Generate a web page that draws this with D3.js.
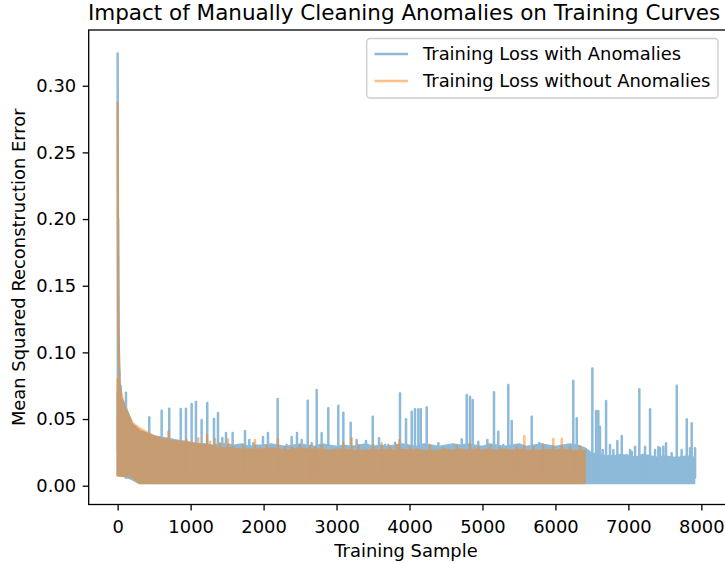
<!DOCTYPE html>
<html>
<head>
<meta charset="utf-8">
<script src="https://cdn.jsdelivr.net/npm/d3@7"></script>
<style>
  body { margin: 0; background: #fff; }
  svg { display: block; font-family: "DejaVu Sans", sans-serif; }
</style>
</head>
<body>
<div id="chart"></div>
<script>
// values
const step = 100; // body envelope is sampled every 100 training samples

const headSamples = [0, 3, 6, 9, 12, 16, 20, 25, 30, 40, 50];
const blueHead = [0.325, 0.025, 0.2, 0.16, 0.12, 0.1, 0.09, 0.085, 0.06, 0.075, 0.055];
const orangeHead = [0.288, 0.21, 0.17, 0.14, 0.12, 0.1, 0.085, 0.075, 0.065, 0.07, 0.06];

const blueBodyHi = [
  0.070, 0.060, 0.046, 0.041, 0.039, 0.037, 0.036, 0.035, 0.034, 0.033,
  0.032, 0.031, 0.031, 0.030, 0.031, 0.031, 0.030, 0.031, 0.029, 0.030,
  0.030, 0.031, 0.030, 0.029, 0.030, 0.031, 0.030, 0.029, 0.031, 0.030,
  0.029, 0.030, 0.029, 0.030, 0.031, 0.029, 0.030, 0.029, 0.030, 0.031,
  0.030, 0.029, 0.031, 0.030, 0.029, 0.030, 0.031, 0.030, 0.031, 0.030,
  0.029, 0.031, 0.030, 0.029, 0.030, 0.031, 0.029, 0.030, 0.031, 0.030,
  0.029, 0.030, 0.031, 0.030, 0.028, 0.024, 0.023, 0.022, 0.022, 0.023,
  0.022, 0.021, 0.023, 0.022, 0.021, 0.022, 0.021, 0.021, 0.022, 0.021
];
const blueBodyLo = [
  0.008, 0.007, 0.005, 0.002, 0.002, 0.002, 0.002, 0.002, 0.002, 0.002,
  0.002, 0.002, 0.002, 0.002, 0.002, 0.002, 0.002, 0.002, 0.002, 0.002,
  0.002, 0.002, 0.002, 0.002, 0.002, 0.002, 0.002, 0.002, 0.002, 0.002,
  0.002, 0.002, 0.002, 0.002, 0.002, 0.002, 0.002, 0.002, 0.002, 0.002,
  0.002, 0.002, 0.002, 0.002, 0.002, 0.002, 0.002, 0.002, 0.002, 0.002,
  0.002, 0.002, 0.002, 0.002, 0.002, 0.002, 0.002, 0.002, 0.002, 0.002,
  0.002, 0.002, 0.002, 0.002, 0.002, 0.002, 0.002, 0.002, 0.002, 0.002,
  0.002, 0.002, 0.002, 0.002, 0.002, 0.002, 0.002, 0.002, 0.002, 0.002
];

const orangeBodyHi = [
  0.080, 0.058, 0.047, 0.043, 0.040, 0.037, 0.035, 0.034, 0.033, 0.033,
  0.032, 0.031, 0.030, 0.029, 0.028, 0.028, 0.028, 0.027, 0.027, 0.027,
  0.027, 0.028, 0.027, 0.026, 0.027, 0.028, 0.027, 0.027, 0.027, 0.026,
  0.027, 0.027, 0.026, 0.026, 0.026, 0.027, 0.026, 0.027, 0.026, 0.027,
  0.026, 0.027, 0.026, 0.026, 0.026, 0.027, 0.026, 0.027, 0.026, 0.027,
  0.026, 0.027, 0.026, 0.027, 0.026, 0.027, 0.026, 0.026, 0.026, 0.027,
  0.026, 0.027, 0.026, 0.026, 0.026
];
const orangeBodyLo = [
  0.0075, 0.0075, 0.0065, 0.002, 0.002, 0.002, 0.002, 0.002, 0.002, 0.002,
  0.002, 0.002, 0.002, 0.002, 0.002, 0.002, 0.002, 0.002, 0.002, 0.002,
  0.002, 0.002, 0.002, 0.002, 0.002, 0.002, 0.002, 0.002, 0.002, 0.002,
  0.002, 0.002, 0.002, 0.002, 0.002, 0.002, 0.002, 0.002, 0.002, 0.002,
  0.002, 0.002, 0.002, 0.002, 0.002, 0.002, 0.002, 0.002, 0.002, 0.002,
  0.002, 0.002, 0.002, 0.002, 0.002, 0.002, 0.002, 0.002, 0.002, 0.002,
  0.002, 0.002, 0.002, 0.002, 0.002
];

// isolated peaks (sample index, loss)
const blueSpikeX = [114, 433, 603, 707, 864, 936, 1014, 1073, 1151, 1228, 1320, 1375, 1434, 1485, 1576,
  1653, 1745, 1804, 1859, 1992, 2060, 2193, 2316, 2385, 2458, 2522, 2605, 2659, 2728, 2796, 2887,
  3024, 3093, 3194, 3275, 3404, 3496, 3582, 3664, 3709, 3802, 3870, 3952, 4030, 4075, 4121, 4154,
  4236, 4395, 4624, 4716, 4784, 4829, 4866, 4943, 5067, 5158, 5217, 5286, 5354, 5401, 5446, 5675,
  5779, 5820, 5880, 6132, 6177, 6245, 6292, 6451, 6506, 6557, 6588, 6611, 6648, 6694, 6748, 6794,
  6849, 6909, 6977, 7022, 7046, 7091, 7150, 7228, 7297, 7365, 7411, 7434, 7479, 7516, 7593, 7663,
  7730, 7800, 7845, 7868, 7914];
const blueSpikeY = [0.0698, 0.0513, 0.0563, 0.0578, 0.0575, 0.0578, 0.0613, 0.0628, 0.0493, 0.062, 0.05, 0.0545, 0.0358, 0.0395, 0.0395,
  0.0305, 0.041, 0.0343, 0.0318, 0.0365, 0.0395, 0.065, 0.0305, 0.0365, 0.0395, 0.0343, 0.0638, 0.0318, 0.0718, 0.0395, 0.058,
  0.06, 0.0548, 0.0473, 0.0343, 0.0335, 0.0518, 0.0356, 0.0305, 0.0305, 0.0323, 0.0693, 0.0498, 0.0555, 0.0573, 0.0573, 0.0573,
  0.0588, 0.0318, 0.0298, 0.0348, 0.068, 0.0668, 0.0643, 0.033, 0.0343, 0.07, 0.0405, 0.0305, 0.0755, 0.0485, 0.0288, 0.0518,
  0.032, 0.031, 0.0288, 0.0298, 0.0288, 0.0788, 0.0505, 0.0255, 0.088, 0.056, 0.056, 0.0443, 0.0268, 0.0635, 0.0305, 0.0268,
  0.0335, 0.0373, 0.023, 0.0268, 0.0255, 0.0293, 0.0723, 0.0293, 0.0573, 0.0268, 0.029, 0.028, 0.0293, 0.0318, 0.0243, 0.075,
  0.0268, 0.0498, 0.028, 0.0468, 0.028];

const orangeSpikeX = [283, 342, 511, 694, 808, 946, 1105, 1224, 1265, 1334, 1402, 1512, 1585, 1722, 1882,
  1950, 2042, 2197, 2293, 2384, 2498, 2636, 2704, 2796, 3093, 3208, 3298, 3504, 3619, 3732, 3824,
  3860, 4007, 4281, 4464, 4647, 4829, 4944, 5104, 5241, 5469, 5574, 5698, 5835, 5971, 6086, 6200, 6337];
const orangeSpikeY = [0.0418, 0.039, 0.0368, 0.0405, 0.032, 0.0343, 0.0355, 0.038, 0.033, 0.035, 0.0318, 0.0348, 0.0293, 0.0305, 0.0343,
  0.028, 0.0298, 0.0348, 0.0288, 0.0288, 0.03, 0.0298, 0.0288, 0.0298, 0.0323, 0.0355, 0.0305, 0.0305, 0.032, 0.0298, 0.0305,
  0.034, 0.0288, 0.0305, 0.028, 0.0298, 0.031, 0.0288, 0.0298, 0.028, 0.0288, 0.0373, 0.0293, 0.0305, 0.035, 0.035, 0.0288, 0.0298];

const xTicks = [0, 1000, 2000, 3000, 4000, 5000, 6000, 7000, 8000];
const yTicks = [0, 0.05, 0.1, 0.15, 0.2, 0.25, 0.3];

const width = 725, height = 563;
const plotLeft = 88.7, plotRight = 726.3, plotTop = 30, plotBottom = 504.5;
const fontSize = 17.9;

const svg = d3.select("#chart").append("svg")
  .attr("width", width)
  .attr("height", height);

const x = d3.scaleLinear().domain([-397, 8342]).range([plotLeft, plotRight]);
const y = d3.scaleLinear().domain([-0.0141, 0.3418]).range([plotBottom, plotTop]);

function drawSeries(color, head, hi, lo, spikeX, spikeY) {
  // whole series in one group so the 0.5 alpha is applied once, like a single line
  const g = svg.append("g").attr("opacity", 0.5);
  const idx = d3.range(hi.length);

  const area = d3.area()
    .x((i) => x(i * step))
    .y0((i) => y(lo[i]))
    .y1((i) => y(hi[i]));

  g.append("path")
    .datum(idx)
    .attr("d", area)
    .attr("fill", color)
    .attr("stroke", color)
    .attr("stroke-width", 2.5)
    .attr("stroke-linejoin", "round");

  g.selectAll(".spike")
    .data(spikeX)
    .enter()
    .append("line")
    .attr("x1", (d) => x(d))
    .attr("x2", (d) => x(d))
    .attr("y1", y(0.006))
    .attr("y2", (d, i) => y(spikeY[i]))
    .attr("stroke", color)
    .attr("stroke-width", 2.5)
    .attr("stroke-linecap", "round");

  const line = d3.line()
    .x((d, i) => x(headSamples[i]))
    .y((d) => y(d));

  g.append("path")
    .datum(head)
    .attr("d", line)
    .attr("fill", "none")
    .attr("stroke", color)
    .attr("stroke-width", 2.5)
    .attr("stroke-linejoin", "round");
}

drawSeries("#1f77b4", blueHead, blueBodyHi, blueBodyLo, blueSpikeX, blueSpikeY);
drawSeries("#ff7f0e", orangeHead, orangeBodyHi, orangeBodyLo, orangeSpikeX, orangeSpikeY);

// axes
const xAxis = d3.axisBottom(x).tickValues(xTicks).tickSize(6).tickPadding(4).tickFormat(d3.format("d"));
const yAxis = d3.axisLeft(y).tickValues(yTicks).tickSize(6).tickPadding(6.5).tickFormat(d3.format(".2f"));

const gx = svg.append("g").attr("transform", `translate(0,${plotBottom})`).call(xAxis);
const gy = svg.append("g").attr("transform", `translate(${plotLeft},0)`).call(yAxis);

[gx, gy].forEach((g) => {
  g.select(".domain").remove();
  g.selectAll(".tick line").attr("stroke", "#000").attr("stroke-width", 1.3);
  g.selectAll(".tick text")
    .attr("fill", "#000")
    .style("font-size", fontSize + "px")
    .style("font-family", "DejaVu Sans");
});
gx.selectAll(".tick text").attr("dy", null).attr("y", 28.5);

// spines
svg.append("rect")
  .attr("x", plotLeft)
  .attr("y", plotTop)
  .attr("width", plotRight - plotLeft)
  .attr("height", plotBottom - plotTop)
  .attr("fill", "none")
  .attr("stroke", "#000")
  .attr("stroke-width", 1.3);

// titles
svg.append("text")
  .attr("x", 404)
  .attr("y", 19.5)
  .attr("text-anchor", "middle")
  .style("font-size", "21.5px")
  .text("Impact of Manually Cleaning Anomalies on Training Curves");

svg.append("text")
  .attr("x", 406)
  .attr("y", 557)
  .attr("text-anchor", "middle")
  .style("font-size", fontSize + "px")
  .text("Training Sample");

svg.append("text")
  .attr("transform", `translate(24.5,${(plotTop + plotBottom) / 2}) rotate(-90)`)
  .attr("text-anchor", "middle")
  .style("font-size", fontSize + "px")
  .text("Mean Squared Reconstruction Error");

// legend
const legend = svg.append("g");
legend.append("rect")
  .attr("x", 366.7)
  .attr("y", 38.5)
  .attr("width", 351.3)
  .attr("height", 59.5)
  .attr("rx", 3.5)
  .attr("fill", "#fff")
  .attr("fill-opacity", 0.8)
  .attr("stroke", "#cccccc")
  .attr("stroke-width", 1.3);

const entries = [
  { label: "Training Loss with Anomalies", color: "#1f77b4" },
  { label: "Training Loss without Anomalies", color: "#ff7f0e" }
];
entries.forEach((e, i) => {
  const cy = 54 + i * 27;
  legend.append("line")
    .attr("x1", 374.5)
    .attr("x2", 408)
    .attr("y1", cy)
    .attr("y2", cy)
    .attr("stroke", e.color)
    .attr("stroke-opacity", 0.5)
    .attr("stroke-width", 2.5);
  legend.append("text")
    .attr("x", 423)
    .attr("y", cy + 6.3)
    .style("font-size", fontSize + "px")
    .text(e.label);
});
</script>
</body>
</html>
